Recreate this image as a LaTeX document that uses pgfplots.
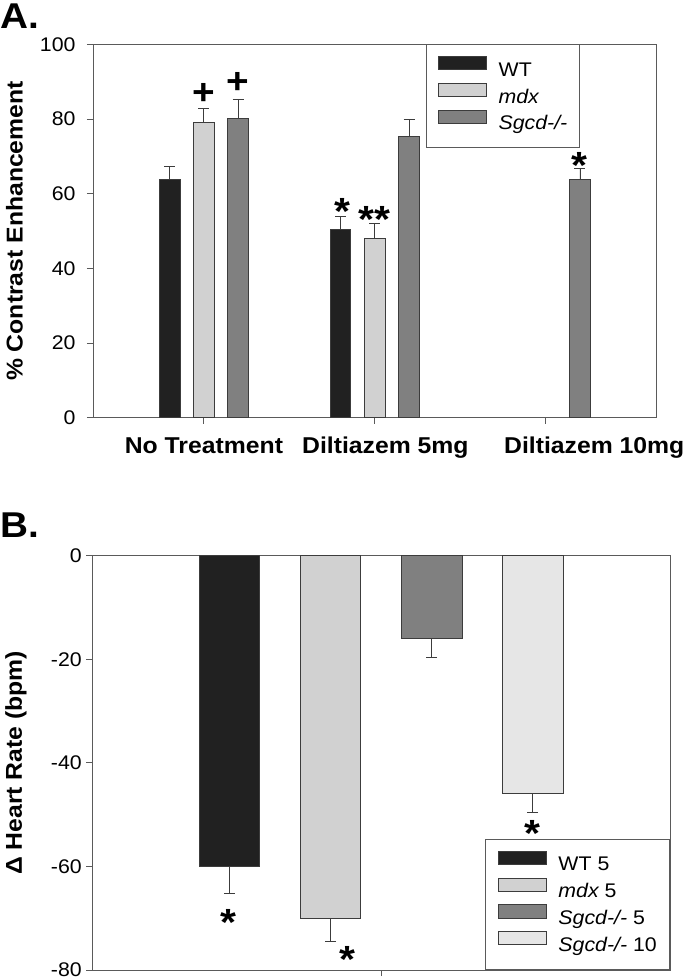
\documentclass[border=0pt]{standalone}
\usepackage{fontspec}
\setmainfont{Liberation Sans}[FakeStretch=1.08]
\usepackage{pgfplots}
\pgfplotsset{compat=1.18}
\definecolor{cWT}{HTML}{212121}
\definecolor{cMdx}{HTML}{D1D1D1}
\definecolor{cSg}{HTML}{808080}
\definecolor{cSgX}{HTML}{E6E6E6}
\definecolor{edge}{HTML}{3C3C3C}
\definecolor{axcol}{HTML}{5A5A5A}
\newcommand\fs[1]{\fontsize{#1}{#1}\selectfont}
\pgfplotsset{
  common/.style={
    scale only axis,
    axis line style={axcol, line width=0.9bp},
    tick style={axcol, line width=0.9bp},
    tick align=outside,
    major tick length=6bp,
    xtick pos=left, ytick pos=left,
    tick label style={font=\fs{19.8}},
    /pgf/number format/assume math mode=true,
    ybar, bar shift=0pt,
    legend cell align=left,
    legend style={draw=axcol, line width=0.9bp, fill=white,
      inner xsep=12bp, inner ysep=11.25bp, column sep=11.5bp, row sep=0bp,
      font=\fs{19.8},
      nodes={inner xsep=0bp, inner ysep=4.75bp, text height=15bp, text depth=2bp}},
    error bars/error bar style={edge, line width=0.9bp},
    error bars/error mark options={rotate=90, edge, line width=0.9bp, mark size=5.5bp},
  },
  swatch/.style={legend image code/.code={\draw[##1, line width=0.9bp] (0bp,0.2bp) rectangle (48bp,13.2bp);}},
}
\tikzset{
  ast/.style={font=\bfseries\fs{38}, inner sep=0pt, anchor=center, yshift=-8bp},
  pls/.style={font=\bfseries\fs{36}, inner sep=0pt, anchor=center},
}
\begin{document}
\begin{tikzpicture}
\path[use as bounding box] (0,0) rectangle (685bp,979bp);
\node[anchor=base west, font=\bfseries\fs{36}, inner sep=0pt] at (0bp,950.7bp) {A.};
\node[anchor=base west, font=\bfseries\fs{36}, inner sep=0pt] at (0bp,441.7bp) {B.};
% Panel A
\begin{axis}[common,
  at={(93bp,561.3bp)}, anchor=south west,
  width=563.7bp, height=373.4bp,
  xmin=-0.649, xmax=2.649, ymin=0, ymax=100,
  bar width=0.12,
  ytick={0,20,40,60,80,100},
  xtick={0,1,2},
  xticklabels={No Treatment\hspace{50bp}, \hspace{21bp}Diltiazem 5mg, \hspace{97bp}Diltiazem 10mg},
  xticklabel style={font=\bfseries\fs{23}, inner ysep=0bp, text height=16.5bp, yshift=-13bp},
  yticklabel style={xshift=-8bp},
  every axis y label/.style={at={(rel axis cs:0,0.5)}, xshift=-70.5bp, rotate=90, anchor=base},
  ylabel={\bfseries\fs{23}\% Contrast Enhancement},
  legend style={at={(rel axis cs:0.5904,1)}, anchor=north west},
]
\addplot[fill=cWT, draw=edge, line width=0.9bp, swatch, error bars/.cd, y dir=plus, y explicit]
  coordinates {(-0.2,63.7) +- (0,3.6) (0.8,50.3) +- (0,3.6)};
\addlegendentry{WT}
\addplot[fill=cMdx, draw=edge, line width=0.9bp, swatch, error bars/.cd, y dir=plus, y explicit]
  coordinates {(0,79.1) +- (0,3.6) (1,47.9) +- (0,4.1)};
\addlegendentry{\itshape mdx}
\addplot[fill=cSg, draw=edge, line width=0.9bp, swatch, error bars/.cd, y dir=plus, y explicit]
  coordinates {(0.2,80.1) +- (0,5.2) (1.2,75.2) +- (0,4.6) (2.2,63.9) +- (0,2.9)};
\addlegendentry{\itshape Sgcd-/-}
\node[pls] at (axis cs:0,86.6) {+};
\node[pls] at (axis cs:0.2,89.7) {+};
\node[ast] at (axis cs:0.81,57.4) {*};
\node[ast] at (axis cs:1.0,55.3) {**};
\node[ast] at (axis cs:2.197,69.6) {*};
\end{axis}
% Panel B
\begin{axis}[common,
  at={(92.3bp,9bp)}, anchor=south west,
  width=577.7bp, height=414.3bp,
  xmin=-0.357, xmax=5.358, ymin=-80, ymax=0,
  bar width=0.6,
  ytick={-80,-60,-40,-20,0},
  xtick={2.5}, xticklabels={},
  yticklabel style={xshift=-1bp},
  every axis y label/.style={at={(rel axis cs:0,0.5)}, xshift=-70.3bp, rotate=90, anchor=base},
  ylabel={\bfseries\fs{23}Δ Heart Rate (bpm)},
  legend style={at={(rel axis cs:0.680,0)}, anchor=south west, inner xsep=12.5bp},
]
\addplot[fill=cWT, draw=edge, line width=0.9bp, swatch, error bars/.cd, y dir=minus, y explicit]
  coordinates {(1,-60.0) +- (0,5.2)};
\addlegendentry{WT 5}
\addplot[fill=cMdx, draw=edge, line width=0.9bp, swatch, error bars/.cd, y dir=minus, y explicit]
  coordinates {(2,-70.0) +- (0,4.5)};
\addlegendentry{\itshape mdx\upshape\ 5}
\addplot[fill=cSg, draw=edge, line width=0.9bp, swatch, error bars/.cd, y dir=minus, y explicit]
  coordinates {(3,-15.95) +- (0,3.7)};
\addlegendentry{\itshape Sgcd-/-\upshape\ 5}
\addplot[fill=cSgX, draw=edge, line width=0.9bp, swatch, error bars/.cd, y dir=minus, y explicit]
  coordinates {(4,-46.0) +- (0,3.6)};
\addlegendentry{\itshape Sgcd-/-\upshape\ 10}
\node[ast] at (axis cs:0.99,-69.2) {*};
\node[ast] at (axis cs:2.17,-76.5) {*};
\node[ast] at (axis cs:4.0,-52.1) {*};
\end{axis}
\end{tikzpicture}
\end{document}
